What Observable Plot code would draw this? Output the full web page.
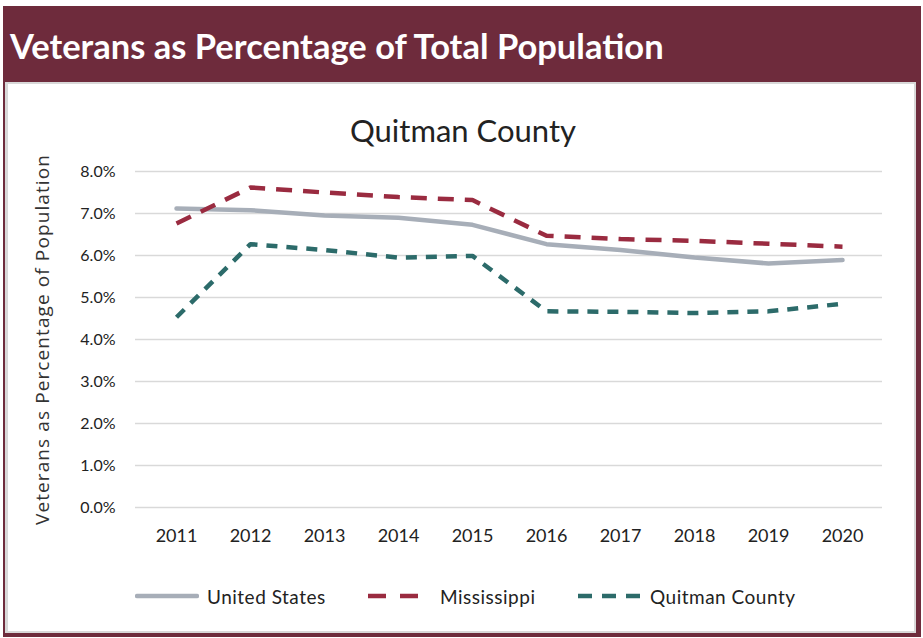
<!DOCTYPE html>
<html>
<head>
<meta charset="utf-8">
<script src="https://cdn.jsdelivr.net/npm/d3@7"></script>
<script src="https://cdn.jsdelivr.net/npm/@observablehq/plot@0.6"></script>
<style>
  html, body { margin: 0; padding: 0; background: #fff; }
  #frame { position: absolute; left: 3px; top: 6px; width: 918px; height: 631px; background: #6E2B3C; }
  #title { position: absolute; left: 10px; top: 25px; font-family: Lato, sans-serif; font-weight: 700; font-size: 34.5px; color: #fff; white-space: nowrap; }
  #inner { position: absolute; left: 5px; top: 82px; width: 906px; height: 547px; background: #fff; border: 2px solid #d8d8d8; border-left-width: 3px; border-right-width: 2px; }
  #ctitle { position: absolute; left: 0; top: 111px; width: 926px; text-align: center; font-family: Lato, sans-serif; font-size: 31px; color: #222; }
  #plot { position: absolute; left: 0; top: 150px; }
  #legend { position: absolute; top: 584px; left: 0; width: 923px; font-family: Lato, sans-serif; font-size: 19px; letter-spacing: 0.5px; color: #222; }
  .item { position: absolute; top: 0; display: flex; align-items: center; height: 24px; white-space: nowrap; }
  .item svg { margin-right: 8px; }
</style>
</head>
<body>
<div id="frame"></div>
<div id="title">Veterans as Percentage of Total Population</div>
<div id="inner"></div>
<div id="ctitle">Quitman County</div>
<div id="plot"></div>
<div id="legend"></div>
<script>
const years = ["2011","2012","2013","2014","2015","2016","2017","2018","2019","2020"];
const unitedStates = [7.12, 7.08, 6.95, 6.90, 6.73, 6.27, 6.13, 5.95, 5.81, 5.89];
const mississippi = [6.76, 7.62, 7.50, 7.39, 7.32, 6.47, 6.39, 6.35, 6.28, 6.21];
const quitman = [4.53, 6.27, 6.13, 5.95, 5.99, 4.67, 4.66, 4.63, 4.67, 4.85];
const yTicks = [0, 1, 2, 3, 4, 5, 6, 7, 8];
const seriesNames = ["United States", "Mississippi", "Quitman County"];

const styles = {
  "United States": {stroke: "#A7AEB8", dash: null, width: 4.5},
  "Mississippi": {stroke: "#9A2B40", dash: "16,11", width: 4.5},
  "Quitman County": {stroke: "#2C6B6A", dash: "11,9", width: 4.5}
};

const values = [unitedStates, mississippi, quitman];
const rows = [];
seriesNames.forEach((s, i) => years.forEach((y, j) => rows.push({series: s, year: y, value: values[i][j]})));

const lineMarks = seriesNames.map(s => Plot.line(rows.filter(d => d.series === s), {
  x: "year", y: "value",
  stroke: styles[s].stroke,
  strokeWidth: styles[s].width,
  strokeDasharray: styles[s].dash,
  strokeLinecap: styles[s].dash ? "butt" : "round",
  strokeLinejoin: "round"
}));

const chart = Plot.plot({
  width: 900,
  height: 400,
  marginLeft: 135,
  marginRight: 18,
  marginTop: 21,
  marginBottom: 43,
  style: {fontFamily: "Lato, sans-serif", fontSize: "16px", color: "#222", background: "transparent"},
  x: {type: "point", domain: years, padding: 0.5, label: null},
  y: {domain: [0, 8], label: null},
  marks: [
    Plot.gridY(yTicks, {stroke: "#d9d9d9", strokeOpacity: 1, strokeWidth: 1.5}),
    Plot.axisY(yTicks, {tickSize: 0, tickPadding: 20, tickFormat: d => d.toFixed(1) + "%", fontSize: 16,
      label: "Veterans as Percentage of Population", labelAnchor: "center", labelArrow: "none", labelOffset: 100}),
    Plot.axisX(years, {tickSize: 0, tickPadding: 22, fontSize: 18, label: null}),
    ...lineMarks
  ]
});
chart.querySelectorAll("[aria-label='y-axis label']").forEach(el => {
  el.setAttribute("font-size", "19");
  el.setAttribute("font-family", "'Open Sans', sans-serif");
  el.setAttribute("letter-spacing", "1.1");
  el.setAttribute("fill", "#333");
});
document.getElementById("plot").appendChild(chart);

const legend = document.getElementById("legend");
const legendX = [135, 368, 578];
seriesNames.forEach((s, i) => {
  const st = styles[s];
  const div = document.createElement("div");
  div.className = "item";
  div.style.left = legendX[i] + "px";
  const svg = d3.create("svg").attr("width", 64).attr("height", 12);
  svg.append("line").attr("x1", st.dash ? 0 : 2).attr("x2", st.dash ? 64 : 62).attr("y1", 6).attr("y2", 6)
    .attr("stroke", st.stroke).attr("stroke-width", st.width)
    .attr("stroke-dasharray", s === "Mississippi" ? "18,14" : (s === "Quitman County" ? "14,10" : null))
    .attr("stroke-linecap", st.dash ? "butt" : "round");
  div.appendChild(svg.node());
  const span = document.createElement("span");
  span.textContent = s;
  div.appendChild(span);
  legend.appendChild(div);
});
</script>
</body>
</html>
